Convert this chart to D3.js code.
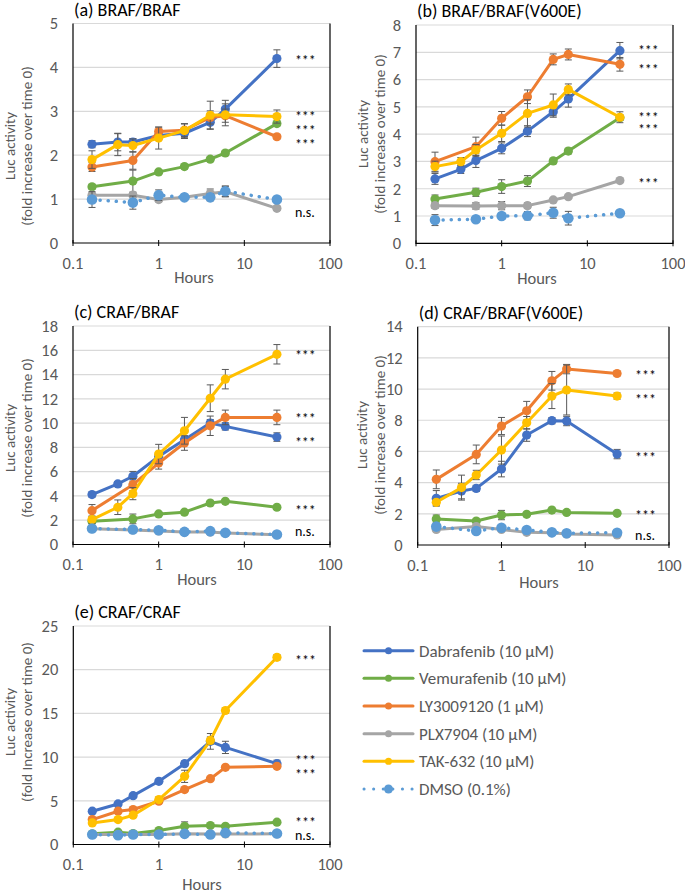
<!DOCTYPE html>
<html>
<head>
<meta charset="utf-8">
<script src="https://cdn.jsdelivr.net/npm/d3@7"></script>
<style>
  body { margin: 0; background: #fff; }
  svg text { font-family: Carlito, Calibri, Lato, 'Open Sans', sans-serif; }
</style>
</head>
<body>
<div id="chart"></div>
<script>
// time points (hours)
const hours = [1 / 6, 1 / 3, 0.5, 1, 2, 4, 6, 24];

const drugs = ['Dabrafenib (10 µM)', 'Vemurafenib (10 µM)', 'LY3009120 (1 µM)', 'PLX7904 (10 µM)', 'TAK-632 (10 µM)', 'DMSO (0.1%)'];
const colors = ['#4472C4', '#70AD47', '#ED7D31', '#A5A5A5', '#FFC000', '#5B9BD5'];

// rows follow drugs order: Dabrafenib, Vemurafenib, LY3009120, PLX7904, TAK-632, DMSO
const valuesA = [
	[2.25, 2.3, 2.3, 2.45, 2.5, 2.75, 3.05, 4.2],
	[1.28, null, 1.41, 1.62, 1.74, 1.91, 2.05, 2.72],
	[1.73, null, 1.88, 2.54, 2.57, 2.86, 2.9, 2.42],
	[1.09, null, 1.09, 0.99, 1.04, 1.13, 1.17, 0.79],
	[1.9, 2.24, 2.22, 2.39, 2.56, 2.91, 2.92, 2.88],
	[0.99, null, 0.92, 1.09, 1.04, 1.04, 1.18, 0.99]
];
const errorsA = [
	[0.08, 0.2, 0.08, 0.1, 0.12, 0.15, 0.2, 0.2],
	[0.05, 0, 0.25, 0.05, 0.05, 0.05, 0.05, 0.05],
	[0.1, 0, 0.2, 0.1, 0.15, 0.15, 0.15, 0.05],
	[0.05, 0, 0.05, 0.05, 0.05, 0.1, 0.12, 0.05],
	[0.2, 0.25, 0.15, 0.25, 0.15, 0.32, 0.25, 0.15],
	[0.18, 0, 0.15, 0.12, 0.05, 0.08, 0.12, 0.05]
];

const valuesB = [
	[2.36, 2.71, 3.03, 3.48, 4.11, 4.82, 5.29, 7.06],
	[1.62, null, 1.87, 2.08, 2.28, 3.02, 3.38, 4.6],
	[2.99, null, 3.54, 4.58, 5.37, 6.74, 6.92, 6.56],
	[1.38, null, 1.37, 1.38, 1.38, 1.59, 1.71, 2.3],
	[2.81, 2.99, 3.42, 4.03, 4.76, 5.07, 5.64, 4.62],
	[0.85, null, 0.88, 1.0, 1.01, 1.12, 0.92, 1.1]
];
const errorsB = [
	[0.2, 0.15, 0.25, 0.2, 0.2, 0.2, 0.3, 0.3],
	[0.15, 0, 0.15, 0.25, 0.2, 0.1, 0.1, 0.1],
	[0.35, 0, 0.35, 0.25, 0.25, 0.2, 0.2, 0.25],
	[0.1, 0, 0.12, 0.15, 0.1, 0.05, 0.05, 0.05],
	[0.2, 0.15, 0.2, 0.3, 0.5, 0.4, 0.2, 0.2],
	[0.2, 0, 0.1, 0.1, 0.15, 0.2, 0.25, 0.05]
];

const valuesC = [
	[4.11, 4.99, 5.62, 7.26, 8.63, 10.0, 9.73, 8.85],
	[1.92, null, 2.11, 2.52, 2.66, 3.42, 3.56, 3.07],
	[2.79, null, 4.93, 6.71, 8.36, 9.78, 10.47, 10.47],
	[1.3, null, 1.2, 1.12, 1.02, 1.02, 0.95, 0.8],
	[2.05, 3.07, 4.19, 7.45, 9.37, 12.05, 13.62, 15.67],
	[1.32, null, 1.23, 1.18, 1.04, 1.1, 0.96, 0.82]
];
const errorsC = [
	[0.2, 0.2, 0.4, 0.3, 0.3, 0.3, 0.3, 0.35],
	[0.1, 0, 0.4, 0.1, 0.1, 0.1, 0.1, 0.1],
	[0.5, 0, 0.5, 0.5, 0.6, 0.8, 0.6, 0.6],
	[0.1, 0, 0.1, 0.1, 0.1, 0.1, 0.1, 0.1],
	[0.3, 0.6, 0.5, 0.8, 1.1, 1.1, 0.8, 0.8],
	[0.1, 0, 0.1, 0.1, 0.1, 0.1, 0.1, 0.1]
];

const valuesD = [
	[2.99, 3.46, 3.63, 4.87, 7.05, 7.97, 7.95, 5.83],
	[1.67, null, 1.54, 1.92, 1.97, 2.24, 2.09, 2.03],
	[4.21, null, 5.81, 7.63, 8.61, 10.53, 11.28, 11.0],
	[1.0, null, 1.18, 1.0, 0.81, 0.79, 0.71, 0.64],
	[2.74, 3.68, 4.49, 6.09, 7.84, 9.55, 9.94, 9.55],
	[1.18, null, 0.9, 1.11, 0.96, 0.81, 0.75, 0.79]
];
const errorsD = [
	[0.5, 0.5, 0.2, 0.5, 0.4, 0.2, 0.3, 0.3],
	[0.25, 0, 0.1, 0.3, 0.1, 0.1, 0.1, 0.1],
	[0.6, 0, 0.6, 0.55, 0.6, 0.6, 0.3, 0.15],
	[0.1, 0, 0.1, 0.1, 0.05, 0.05, 0.05, 0.05],
	[0.2, 0.8, 0.3, 0.9, 0.4, 0.8, 1.6, 0.2],
	[0.1, 0, 0.1, 0.1, 0.1, 0.05, 0.05, 0.05]
];

const valuesE = [
	[3.81, 4.64, 5.59, 7.23, 9.25, 11.8, 11.11, 9.25],
	[1.22, 1.41, 1.26, 1.6, 2.09, 2.17, 2.09, 2.55],
	[2.85, 3.81, 4.0, 4.95, 6.28, 7.53, 8.83, 8.94],
	[1.14, 1.14, 1.14, 1.14, 1.22, 1.2, 1.2, 1.22],
	[2.47, 2.85, 3.35, 5.14, 7.8, 11.91, 15.33, 21.42],
	[1.14, 1.07, 1.14, 1.14, 1.22, 1.14, 1.33, 1.26]
];
const errorsE = [
	[0.2, 0.2, 0.2, 0.2, 0.3, 0.9, 0.7, 0.4],
	[0.1, 0.1, 0.1, 0.1, 0.5, 0.1, 0.1, 0.1],
	[0.2, 0.2, 0.2, 0.2, 0.2, 0.2, 0.2, 0.2],
	[0.1, 0.1, 0.1, 0.1, 0.1, 0.1, 0.1, 0.1],
	[0.2, 0.2, 0.2, 0.3, 0.7, 0.4, 0.3, 0.3],
	[0.1, 0.1, 0.1, 0.1, 0.1, 0.1, 0.1, 0.1]
];

// significance marks next to the 24 h points: [label, y value]
const sigA = [['***', 4.22], ['***', 2.94], ['***', 2.63], ['***', 2.29], ['n.s.', 0.71]];
const sigB = [['***', 7.15], ['***', 6.46], ['***', 4.70], ['***', 4.26], ['***', 2.28]];
const sigC = [['***', 15.75], ['***', 10.59], ['***', 8.61], ['***', 3.03], ['n.s.', 1.14]];
const sigD = [['***', 11.0], ['***', 9.47], ['***', 5.79], ['***', 2.07], ['n.s.', 0.64]];
const sigE = [['***', 21.37], ['***', 9.87], ['***', 8.27], ['***', 2.8], ['n.s.', 1.09]];

const xTicks = [0.1, 1, 10, 100];

const panels = [
	{ title: '(a) BRAF/BRAF', left: 73, right: 330, top: 23.5, bottom: 243, yMax: 5, yStep: 1,
		values: valuesA, errors: errorsA, sig: sigA, ylab: '(fold increase over time 0)',
		ylabX: [10, 27], ylabY: 146, hoursX: 194, hoursY: 277 },
	{ title: '(b) BRAF/BRAF(V600E)', left: 416, right: 673, top: 25, bottom: 243.3, yMax: 8, yStep: 1,
		values: valuesB, errors: errorsB, sig: sigB, ylab: '(fold increase over time 0)',
		ylabX: [363, 380], ylabY: 134, hoursX: 537, hoursY: 278 },
	{ title: '(c) CRAF/BRAF', left: 73, right: 330, top: 326, bottom: 544.5, yMax: 18, yStep: 2,
		values: valuesC, errors: errorsC, sig: sigC, ylab: '(fold increase over time 0)',
		ylabX: [10, 27], ylabY: 438, hoursX: 197, hoursY: 579 },
	{ title: '(d) CRAF/BRAF(V600E)', left: 417.7, right: 669, top: 326.7, bottom: 545, yMax: 14, yStep: 2,
		values: valuesD, errors: errorsD, sig: sigD, ylab: '(fold increase over time 0)',
		ylabX: [362, 380], ylabY: 435, hoursX: 539, hoursY: 582 },
	{ title: '(e) CRAF/CRAF', left: 73.3, right: 330, top: 626, bottom: 844.5, yMax: 25, yStep: 5,
		values: valuesE, errors: errorsE, sig: sigE, ylab: '(fold Increase over time 0)',
		ylabX: [10, 27], ylabY: 722, hoursX: 202, hoursY: 884 }
];

const svg = d3.select('#chart')
	.append('svg')
		.attr('width', 685)
		.attr('height', 894);

const drawPanel = (p) => {
	const xScale = d3.scaleLog()
		.domain([0.1, 100])
		.range([p.left, p.right]);
	const yScale = d3.scaleLinear()
		.domain([0, p.yMax])
		.range([p.bottom, p.top]);

	const g = svg.append('g');
	const yTicks = d3.range(0, p.yMax + 0.001, p.yStep);

	// gridlines
	g.selectAll('.grid')
		.data(yTicks.filter(d => d > 0))
		.join('line')
			.attr('x1', p.left)
			.attr('x2', p.right)
			.attr('y1', d => yScale(d))
			.attr('y2', d => yScale(d))
			.attr('stroke', '#D9D9D9')
			.attr('stroke-width', 1.2);

	// frame: left, bottom and right in black
	g.append('path')
		.attr('d', `M${p.left},${p.top}V${p.bottom}H${p.right}V${p.top}`)
		.attr('fill', 'none')
		.attr('stroke', '#000')
		.attr('stroke-width', 1.2);

	// x ticks
	g.selectAll('.xtick')
		.data(xTicks)
		.join('line')
			.attr('x1', d => xScale(d))
			.attr('x2', d => xScale(d))
			.attr('y1', p.bottom - 3)
			.attr('y2', p.bottom + 3)
			.attr('stroke', '#000')
			.attr('stroke-width', 1);

	g.selectAll('.xlab')
		.data(xTicks)
		.join('text')
			.attr('x', d => xScale(d))
			.attr('y', p.bottom + 20)
			.attr('dy', '0.35em')
			.attr('text-anchor', 'middle')
			.attr('fill', '#595959')
			.style('font-size', '16.5px')
			.text(d => d3.format('~g')(d));

	g.selectAll('.ylab')
		.data(yTicks)
		.join('text')
			.attr('x', p.left - 15)
			.attr('y', d => yScale(d))
			.attr('dy', '0.35em')
			.attr('text-anchor', 'end')
			.attr('fill', '#595959')
			.style('font-size', '16.5px')
			.text(d => d);

	// title
	g.append('text')
		.attr('x', p.left + 1)
		.attr('y', p.top - 8)
		.attr('fill', '#000')
		.style('font-size', '18px')
		.text(p.title);

	// axis titles
	['Luc activity', p.ylab].forEach((t, i) => {
		g.append('text')
			.attr('transform', `translate(${p.ylabX[i]},${p.ylabY}) rotate(-90)`)
			.attr('text-anchor', 'middle')
			.attr('dy', '0.35em')
			.attr('fill', '#595959')
			.style('font-size', '15px')
			.text(t);
	});

	g.append('text')
		.attr('x', p.hoursX)
		.attr('y', p.hoursY)
		.attr('dy', '0.35em')
		.attr('text-anchor', 'middle')
		.attr('fill', '#595959')
		.style('font-size', '16.5px')
		.text('Hours');

	const lineGenerator = d3.line()
		.x(d => xScale(d.x))
		.y(d => yScale(d.y));

	p.values.forEach((row, s) => {
		const pts = row
			.map((v, i) => ({ x: hours[i], y: v, e: p.errors[s][i] }))
			.filter(d => d.y !== null);
		const isDmso = s === 5;

		g.append('path')
			.attr('d', lineGenerator(pts))
			.attr('fill', 'none')
			.attr('stroke', colors[s])
			.attr('stroke-width', isDmso ? 3.5 : 3)
			.attr('stroke-linecap', 'round')
			.attr('stroke-linejoin', 'round')
			.attr('stroke-dasharray', isDmso ? '0.1 8' : null);

		// error bars
		const eb = g.append('g')
			.attr('stroke', '#595959')
			.attr('stroke-width', 1);
		pts.filter(d => d.e > 0).forEach(d => {
			const cx = xScale(d.x);
			const y0 = yScale(d.y - d.e);
			const y1 = yScale(d.y + d.e);
			eb.append('line').attr('x1', cx).attr('x2', cx).attr('y1', y0).attr('y2', y1);
			eb.append('line').attr('x1', cx - 3.5).attr('x2', cx + 3.5).attr('y1', y0).attr('y2', y0);
			eb.append('line').attr('x1', cx - 3.5).attr('x2', cx + 3.5).attr('y1', y1).attr('y2', y1);
		});

		g.selectAll(null)
			.data(pts)
			.join('circle')
				.attr('cx', d => xScale(d.x))
				.attr('cy', d => yScale(d.y))
				.attr('r', isDmso ? 5.3 : 4.6)
				.attr('fill', colors[s]);
	});

	// significance marks
	g.selectAll('.sig')
		.data(p.sig)
		.join('text')
			.attr('x', xScale(24) + 18)
			.attr('y', d => yScale(d[1]))
			.attr('dy', d => d[0] === '***' ? '0.5em' : '0.35em')
			.attr('fill', '#000')
			.style('font-size', d => d[0] === '***' ? '14px' : '14px')
			.text(d => d[0]);
};

panels.forEach(drawPanel);

// legend
const legendY = d3.scalePoint()
	.domain(drugs)
	.range([650.7, 789]);

const legend = svg.append('g');
drugs.forEach((name, i) => {
	const y = legendY(name);
	const isDmso = i === 5;
	legend.append('line')
		.attr('x1', 364)
		.attr('x2', 413)
		.attr('y1', y)
		.attr('y2', y)
		.attr('stroke', colors[i])
		.attr('stroke-width', 3)
		.attr('stroke-linecap', 'round')
		.attr('stroke-dasharray', isDmso ? '0.1 9.5' : null);
	legend.append('circle')
		.attr('cx', 388.5)
		.attr('cy', y)
		.attr('r', isDmso ? 4.5 : 3.5)
		.attr('fill', colors[i]);
	legend.append('text')
		.attr('x', 419)
		.attr('y', y)
		.attr('dy', '0.35em')
		.attr('fill', '#595959')
		.style('font-size', '17px')
		.text(name);
});
</script>
</body>
</html>
